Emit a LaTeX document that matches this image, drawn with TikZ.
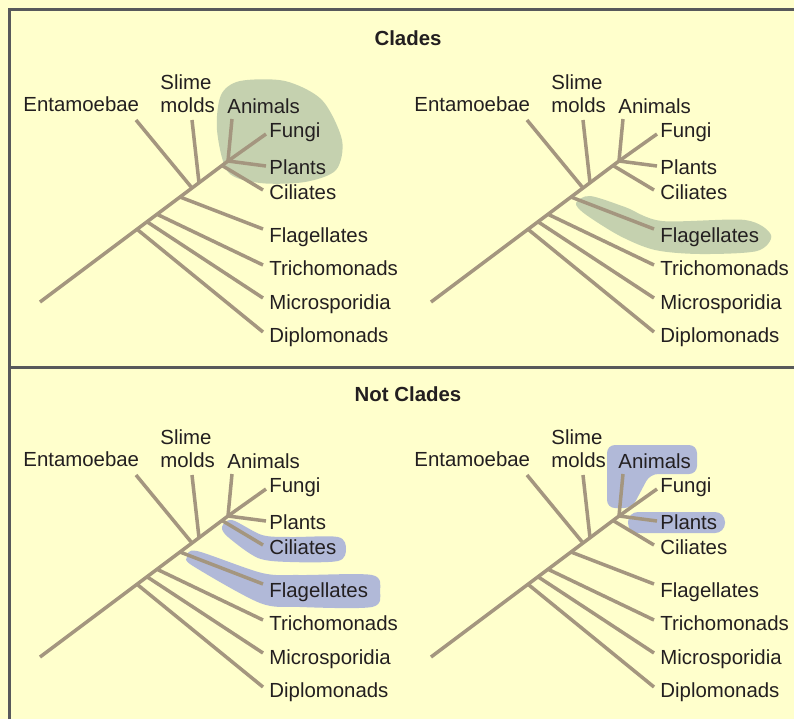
\documentclass[tikz,border=0pt]{standalone}
\usepackage{fontspec}
\setmainfont{Liberation Sans}
\definecolor{Ink}{HTML}{231F20}
\definecolor{Paper}{HTML}{FFFFCC}
\definecolor{Frame}{HTML}{58595B}
\definecolor{Twig}{HTML}{A4967F}
\definecolor{Sage}{HTML}{C5D1AF}
\definecolor{Lilac}{HTML}{B1B9D8}
\tikzset{
  branch/.style={draw=Twig, line width=1.75pt},
  leaf/.style={anchor=base west, inner sep=0pt, text=Ink,
    font=\fontsize{10.2}{11.5}\selectfont},
  heading/.style={anchor=base, inner sep=0pt, text=Ink,
    font=\fontsize{10.2}{11.5}\selectfont\bfseries},
  frame/.style={draw=Frame, line width=1.5pt},
  clade/.style={fill=Sage},
  notclade/.style={fill=Lilac},
  tree/.pic={
    % trunk and forks
    \coordinate (-root) at (0,0);
    \coordinate (-jDip) at (97,-72.75);
    \coordinate (-jMic) at (107,-80.25);
    \coordinate (-jTri) at (117,-87.75);
    \coordinate (-jFla) at (140,-105);
    \coordinate (-jEnt) at (152,-114);
    \coordinate (-jSli) at (159,-119.25);
    \coordinate (-jCil) at (182,-136.5);
    \coordinate (-crown) at (188,-141);
    % tips
    \coordinate (-tDip) at (223,30);
    \coordinate (-tMic) at (223,-4);
    \coordinate (-tTri) at (223,-37);
    \coordinate (-tFla) at (223,-73);
    \coordinate (-tCil) at (223,-112);
    \coordinate (-tPla) at (226,-136);
    \coordinate (-tFun) at (226,-168);
    \coordinate (-tAni) at (192,-183);
    \coordinate (-tSli) at (152,-182);
    \coordinate (-tEnt) at (96,-182);
    % labels
    \node[leaf] (-dip) at (229,40) {Diplomonads};
    \node[leaf] (-mic) at (229,7) {Microsporidia};
    \node[leaf] (-tri) at (229,-27) {Trichomonads};
    \node[leaf] (-fla) at (229,-60) {Flagellates};
    \node[leaf] (-cil) at (229,-103) {Ciliates};
    \node[leaf] (-pla) at (229,-128) {Plants};
    \node[leaf] (-fun) at (229,-165) {Fungi};
    \node[leaf] (-ani) at (187,-189) {Animals};
    \node[leaf,anchor=south west,align=left] (-sli) at (120,-189) {Slime\\molds};
    \node[leaf] (-ent) at (-17,-191) {Entamoebae};
    % branches
    \draw[branch] (-root) -- (-crown);
    \draw[branch] (-jDip) -- (-tDip);
    \draw[branch] (-jMic) -- (-tMic);
    \draw[branch] (-jTri) -- (-tTri);
    \draw[branch] (-jFla) -- (-tFla);
    \draw[branch] (-jCil) -- (-tCil);
    \draw[branch] (-jEnt) -- (-tEnt);
    \draw[branch] (-jSli) -- (-tSli);
    \draw[branch] (-crown) -- (-tAni);
    \draw[branch] (-crown) -- (-tFun);
    \draw[branch] (-crown) -- (-tPla);
  }
}
\begin{document}
\begin{tikzpicture}[x=0.5pt,y=-0.5pt]
  \fill[Paper] (0,0) rectangle (794,719);
  \useasboundingbox (0,0) rectangle (794,719);
  % frame
  \draw[frame] (9.5,719) -- (9.5,9.5) -- (794,9.5);
  \draw[frame] (9.5,367.5) -- (794,367.5);
  \node[heading] (clades) at (408,45) {Clades};
  \node[heading] (notclades) at (408,401) {Not Clades};
  % highlights
  \fill[clade] plot[smooth cycle] coordinates {(217,130) (221,95) (240,81) (285,81)
    (322,100) (342,140) (336,170) (305,182) (260,183) (228,172)};
  \fill[clade] plot[smooth cycle] coordinates {(576,203) (590,196) (625,207) (662,221)
    (745,220) (771,235) (757,251) (700,254) (655,250) (620,236) (585,214)};
  \fill[notclade] plot[smooth cycle] coordinates {(222,527) (232,520) (262,535) (290,537)
    (338,537) (346,549) (338,561) (290,562) (258,558) (228,537)};
  \fill[notclade] plot[smooth cycle] coordinates {(187,557) (197,551) (262,573) (300,575)
    (372,575) (380,591) (372,607) (300,607) (260,603) (193,566)};
  \fill[notclade, rounded corners=4pt] (607,508) -- (607,445) -- (697,445) -- (697,474)
    -- (650,474) -- (632,508) -- cycle;
  \fill[notclade, rounded corners=5pt] (628,512) rectangle (725,533);
  % trees
  \pic (TL) at (40,302) {tree};
  \pic (TR) at (431,302) {tree};
  \pic (BL) at (40,657) {tree};
  \pic (BR) at (431,657) {tree};
\end{tikzpicture}
\end{document}
